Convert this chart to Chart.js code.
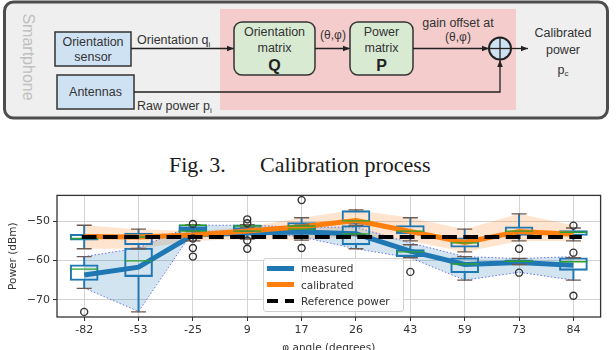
<!DOCTYPE html>
<html>
<head>
<meta charset="utf-8">
<script src="https://cdn.jsdelivr.net/npm/chart.js@4.4.0/dist/chart.umd.min.js"></script>
<style>
    html, body {
        margin: 0;
        padding: 0;
        background: #fff;
        width: 616px;
        height: 350px;
        overflow: hidden;
        position: relative;
    }
    #diagram { position: absolute; left: 0; top: 0; }
    #caption {
        position: absolute;
        top: 154px;
        left: 0;
        width: 616px;
        height: 24px;
        font-family: "Liberation Serif", "Times New Roman", serif;
        font-size: 22px;
        line-height: 22px;
        color: #1a1a1a;
    }
    #caption span { position: absolute; white-space: nowrap; }
    #chartBox { position: absolute; left: 0; top: 180px; width: 616px; height: 180px; }
    #legend {
        position: absolute;
        left: 263px;
        top: 258px;
        width: 141px;
        height: 54px;
        box-sizing: border-box;
        background: rgba(255, 255, 255, 0.8);
        border: 1px solid #d0d0d0;
        border-radius: 3px;
        font-family: "DejaVu Sans", sans-serif;
        font-size: 10.5px;
        color: #333;
    }
    #legend .txt { position: absolute; left: 37px; white-space: nowrap; line-height: 12px; }
    #legend .sw { position: absolute; }
</style>
</head>
<body>

<svg id="diagram" width="616" height="124" viewBox="0 0 616 124" font-family="Liberation Sans, Arial, sans-serif" fill="#333">
    <defs>
        <marker id="arr" viewBox="0 0 10 10" refX="10" refY="5" markerWidth="7" markerHeight="7" orient="auto" markerUnits="userSpaceOnUse">
            <path d="M0,1 L10,5 L0,9 z" fill="#222"/>
        </marker>
    </defs>
    <rect x="4.5" y="2" width="603" height="116" rx="9" fill="#efefef" stroke="#4d4d4d" stroke-width="3"/>
    <rect x="220" y="9" width="296" height="101" fill="#f4cccc"/>
    <text transform="translate(28,57) rotate(90)" text-anchor="middle" dominant-baseline="central" font-size="16" fill="#c0c0c0">Smartphone</text>

    <rect x="55" y="32" width="76" height="34" fill="#cfe2f3" stroke="#333" stroke-width="1.5"/>
    <text x="93" y="42" text-anchor="middle" dominant-baseline="central" font-size="12.5">Orientation</text>
    <text x="93" y="57" text-anchor="middle" dominant-baseline="central" font-size="12.5">sensor</text>

    <rect x="57" y="75" width="77" height="34" fill="#cfe2f3" stroke="#333" stroke-width="1.5"/>
    <text x="95.5" y="92" text-anchor="middle" dominant-baseline="central" font-size="12.5">Antennas</text>

    <line x1="131" y1="48.5" x2="234" y2="48.5" stroke="#222" stroke-width="1.3" marker-end="url(#arr)"/>
    <text x="137" y="44" font-size="12.5">Orientation q<tspan font-size="8" dy="3">i</tspan></text>

    <rect x="234" y="22" width="81" height="53" rx="8" fill="#d9ead3" stroke="#333" stroke-width="1.5"/>
    <text x="274.5" y="32" text-anchor="middle" dominant-baseline="central" font-size="12.5">Orientation</text>
    <text x="274.5" y="48" text-anchor="middle" dominant-baseline="central" font-size="12.5">matrix</text>
    <text x="274.5" y="65" text-anchor="middle" dominant-baseline="central" font-size="16" font-weight="bold" fill="#222">Q</text>

    <line x1="315" y1="48.5" x2="350" y2="48.5" stroke="#222" stroke-width="1.3" marker-end="url(#arr)"/>
    <text x="333" y="35" text-anchor="middle" dominant-baseline="central" font-size="12">(θ,φ)</text>

    <rect x="350" y="22" width="63" height="53" rx="8" fill="#d9ead3" stroke="#333" stroke-width="1.5"/>
    <text x="381.5" y="32" text-anchor="middle" dominant-baseline="central" font-size="12.5">Power</text>
    <text x="381.5" y="48" text-anchor="middle" dominant-baseline="central" font-size="12.5">matrix</text>
    <text x="381.5" y="65" text-anchor="middle" dominant-baseline="central" font-size="16" font-weight="bold" fill="#222">P</text>

    <line x1="413" y1="48.5" x2="489" y2="48.5" stroke="#222" stroke-width="1.3" marker-end="url(#arr)"/>
    <text x="458" y="23" text-anchor="middle" dominant-baseline="central" font-size="12.5">gain offset at</text>
    <text x="458" y="37" text-anchor="middle" dominant-baseline="central" font-size="12">(θ,φ)</text>

    <path d="M134,92 H500 V60" fill="none" stroke="#222" stroke-width="1.3" marker-end="url(#arr)"/>
    <circle cx="500" cy="48.5" r="11" fill="#cfe2f3" stroke="#222" stroke-width="2"/>
    <line x1="489" y1="48.5" x2="511" y2="48.5" stroke="#222" stroke-width="1.3"/>
    <line x1="500" y1="37.5" x2="500" y2="59.5" stroke="#222" stroke-width="1.3"/>
    <line x1="511" y1="48.5" x2="528" y2="48.5" stroke="#222" stroke-width="1.3" marker-end="url(#arr)"/>

    <text x="563" y="33" text-anchor="middle" dominant-baseline="central" font-size="12.5">Calibrated</text>
    <text x="563" y="50" text-anchor="middle" dominant-baseline="central" font-size="12.5">power</text>
    <text x="563" y="70" text-anchor="middle" dominant-baseline="central" font-size="12.5">p<tspan font-size="8" dy="3">c</tspan></text>

    <text x="137" y="110" font-size="12.5">Raw power p<tspan font-size="8" dy="3">i</tspan></text>
</svg>

<div id="caption"><span style="left:169px">Fig. 3.</span><span style="left:260px">Calibration process</span></div>

<div id="chartBox"><canvas id="power"></canvas></div>

<div id="legend">
    <div class="sw" style="left:3px; top:7px; width:27px; height:5px; background:#1f77b4"></div>
    <div class="txt" style="top:3px">measured</div>
    <div class="sw" style="left:3px; top:23px; width:27px; height:5px; background:#ff7f0e"></div>
    <div class="txt" style="top:19.5px">calibrated</div>
    <div class="sw" style="left:3px; top:40px; width:11px; height:4px; background:#000"></div>
    <div class="sw" style="left:21px; top:40px; width:9px; height:4px; background:#000"></div>
    <div class="txt" style="top:36px">Reference power</div>
</div>

<script>
const angleLabels = ["-82", "-53", "-25", "9", "17", "26", "43", "59", "73", "84"];
const yTicks = [-70, -60, -50];
const refPower = -54;

// thick lines
const measuredMean = [-63.7, -61.7, -53.5, -53.0, -52.7, -53.2, -57.6, -61.0, -60.5, -61.2];
const calibratedMean = [-53.9, -54.0, -53.5, -52.5, -51.4, -49.8, -52.6, -55.4, -52.6, -53.3];

// shaded bands
const measuredBandHi = [-59.0, -56.8, -51.0, -51.0, -51.5, -51.5, -55.5, -59.0, -59.5, -59.0];
const measuredBandLo = [-67.0, -73.0, -52.6, -52.5, -54.0, -57.0, -59.3, -65.0, -63.0, -65.0];
const calibratedBandHi = [-51.0, -52.0, -52.5, -51.5, -49.1, -47.1, -49.1, -52.0, -48.1, -51.0];
const calibratedBandLo = [-57.0, -57.0, -55.0, -54.5, -54.8, -54.0, -55.0, -57.8, -55.0, -55.0];

// boxplots - measured
const measQ1 = [-65.1, -64.1, -52.4, -52.0, -53.2, -56.0, -59.0, -63.1, -60.6, -62.5];
const measMed = [-62.2, -60.1, -51.0, -51.2, -52.0, -53.2, -57.8, -60.9, -60.2, -60.3];
const measQ3 = [-61.1, -56.8, -50.9, -50.9, -51.5, -51.1, -57.2, -59.3, -59.8, -59.3];
const measWhiskLo = [-67.1, -73.1, -52.6, -52.5, -54.0, -57.0, -59.3, -65.0, -61.0, -65.0];
const measWhiskHi = [-59.0, -56.9, -50.9, -50.9, -51.0, -51.0, -56.0, -59.0, -59.5, -59.3];

// boxplots - calibrated
const calQ1 = [-54.8, -56.0, -53.5, -53.5, -52.5, -50.7, -53.2, -56.6, -53.6, -53.6];
const calMed = [-54.4, -54.0, -52.5, -52.5, -51.2, -49.9, -52.5, -55.5, -52.5, -52.8];
const calQ3 = [-53.3, -53.0, -51.5, -52.0, -50.3, -47.3, -51.1, -54.2, -51.4, -52.4];
const calWhiskLo = [-57.0, -57.0, -55.0, -54.5, -54.8, -53.5, -55.0, -57.8, -55.0, -55.0];
const calWhiskHi = [-51.0, -52.0, -51.0, -51.5, -49.1, -47.1, -49.1, -52.0, -48.1, -51.7];

const fliers = [
    [-73.1],
    [],
    [-50.7, -54.4, -56.8, -59.0],
    [-49.5, -50.5, -54.9, -57.0],
    [-44.6, -56.8],
    [],
    [-62.9],
    [],
    [-57.0, -63.1],
    [-51.1, -58.0, -69.0],
];

const BLUE = "#1f77b4";
const ORANGE = "#ff7f0e";
const GREEN = "#2ca02c";
const CAP = "#6e5a4e";
const tickFont = { family: "DejaVu Sans", size: 11 };

const pairs = (lo, hi) => angleLabels.map((_, i) => [lo[i], hi[i]]);
const points = (...lists) =>
    angleLabels.flatMap((l, i) => lists.map((list) => ({ x: l, y: list[i] })));

function boxSet(q1, q3, order) {
    return {
        type: "bar",
        data: pairs(q1, q3),
        grouped: false,
        barThickness: 28,
        backgroundColor: "rgba(0,0,0,0)",
        borderColor: BLUE,
        borderWidth: 1.4,
        borderSkipped: false,
        order: order,
    };
}
function whiskerSet(lo, hi, order) {
    return {
        type: "bar",
        data: pairs(lo, hi),
        grouped: false,
        barThickness: 1.3,
        backgroundColor: BLUE,
        borderWidth: 0,
        order: order,
    };
}
function markSet(data, style, radius, color, order) {
    return {
        type: "line",
        data: data,
        showLine: false,
        pointStyle: style,
        pointRadius: radius,
        pointHoverRadius: radius,
        pointBorderColor: color,
        pointBackgroundColor: "rgba(0,0,0,0)",
        pointBorderWidth: 1.4,
        order: order,
    };
}

const framePlugin = {
    id: "frame",
    afterDatasetsDraw(chart) {
        const { ctx, chartArea: a } = chart;
        ctx.save();
        ctx.strokeStyle = "#333";
        ctx.lineWidth = 1.3;
        ctx.strokeRect(a.left, a.top, a.right - a.left, a.bottom - a.top);
        ctx.restore();
    },
};

const chart = new Chart(document.getElementById("power"), {
    type: "bar",
    data: {
        labels: angleLabels,
        datasets: [
            // bands
            {
                type: "line",
                data: calibratedBandHi,
                borderWidth: 0,
                borderColor: "rgba(0,0,0,0)",
                pointRadius: 0,
                fill: "+1",
                backgroundColor: "rgba(255,127,14,0.2)",
                order: 11,
            },
            {
                type: "line",
                data: calibratedBandLo,
                borderWidth: 0,
                borderColor: "rgba(0,0,0,0)",
                pointRadius: 0,
                fill: false,
                order: 11,
            },
            {
                type: "line",
                data: measuredBandHi,
                borderWidth: 1,
                borderDash: [1.5, 2],
                borderColor: "rgba(60,60,230,0.7)",
                pointRadius: 0,
                fill: "+1",
                backgroundColor: "rgba(31,119,180,0.2)",
                order: 10,
            },
            {
                type: "line",
                data: measuredBandLo,
                borderWidth: 1,
                borderDash: [1.5, 2],
                borderColor: "rgba(60,60,230,0.7)",
                pointRadius: 0,
                fill: false,
                order: 10,
            },
            // whiskers
            whiskerSet(measWhiskLo, measQ1, 8),
            whiskerSet(measQ3, measWhiskHi, 8),
            whiskerSet(calWhiskLo, calQ1, 8),
            whiskerSet(calQ3, calWhiskHi, 8),
            // boxes
            boxSet(measQ1, measQ3, 7),
            boxSet(calQ1, calQ3, 7),
            // mean lines
            {
                type: "line",
                data: measuredMean,
                borderColor: BLUE,
                borderWidth: 5,
                pointRadius: 0,
                tension: 0,
                fill: false,
                order: 5,
            },
            {
                type: "line",
                data: calibratedMean,
                borderColor: ORANGE,
                borderWidth: 5,
                pointRadius: 0,
                tension: 0,
                fill: false,
                order: 4,
            },
            // caps, medians, fliers
            markSet(points(measWhiskLo, measWhiskHi, calWhiskLo, calWhiskHi), "line", 7.5, CAP, 3),
            markSet(points(measMed, calMed), "line", 14, GREEN, 2),
            markSet(
                angleLabels.flatMap((l, i) => fliers[i].map((v) => ({ x: l, y: v }))),
                "circle", 3.5, "#333", 1
            ),
            // reference power
            {
                type: "line",
                xAxisID: "xr",
                data: [{ x: 0, y: refPower }, { x: 1.012, y: refPower }],
                borderColor: "#000",
                borderWidth: 4,
                borderDash: [14.8, 6.4],
                pointRadius: 0,
                fill: false,
                clip: { left: 0, top: 0, right: 8, bottom: 0 },
                order: 0,
            },
        ],
    },
    options: {
        responsive: true,
        maintainAspectRatio: false,
        animation: false,
        layout: { padding: { top: 10, right: 9, left: 0, bottom: 0 } },
        plugins: {
            legend: { display: false },
            tooltip: { enabled: false },
        },
        scales: {
            x: {
                type: "category",
                offset: true,
                afterFit: (s) => { s.height = 43; },
                ticks: { color: "#333", font: tickFont, padding: 3, maxRotation: 0, autoSkip: false },
                grid: { offset: false, color: "#d3d3d3", tickColor: "#333", tickLength: 4 },
                border: { display: false },
                title: {
                    display: true,
                    text: "φ angle (degrees)",
                    color: "#333",
                    font: { family: "DejaVu Sans", size: 10.5 },
                    padding: { top: 0, bottom: 5 },
                },
            },
            xr: { type: "linear", display: false, min: 0, max: 1 },
            y: {
                min: -74.4,
                max: -43.4,
                afterFit: (s) => { s.width = 57; },
                afterBuildTicks: (s) => { s.ticks = yTicks.map((v) => ({ value: v })); },
                ticks: {
                    color: "#333",
                    font: tickFont,
                    padding: 3,
                    callback: (v) => String(v).replace("-", "\u2212"),
                },
                grid: { color: "#d3d3d3", tickColor: "#333", tickLength: 4 },
                border: { display: false },
                title: {
                    display: true,
                    text: "Power (dBm)",
                    color: "#333",
                    font: { family: "DejaVu Sans", size: 10.5 },
                    padding: { top: 7, bottom: 0 },
                },
            },
        },
    },
    plugins: [framePlugin],
});
</script>
</body>
</html>
